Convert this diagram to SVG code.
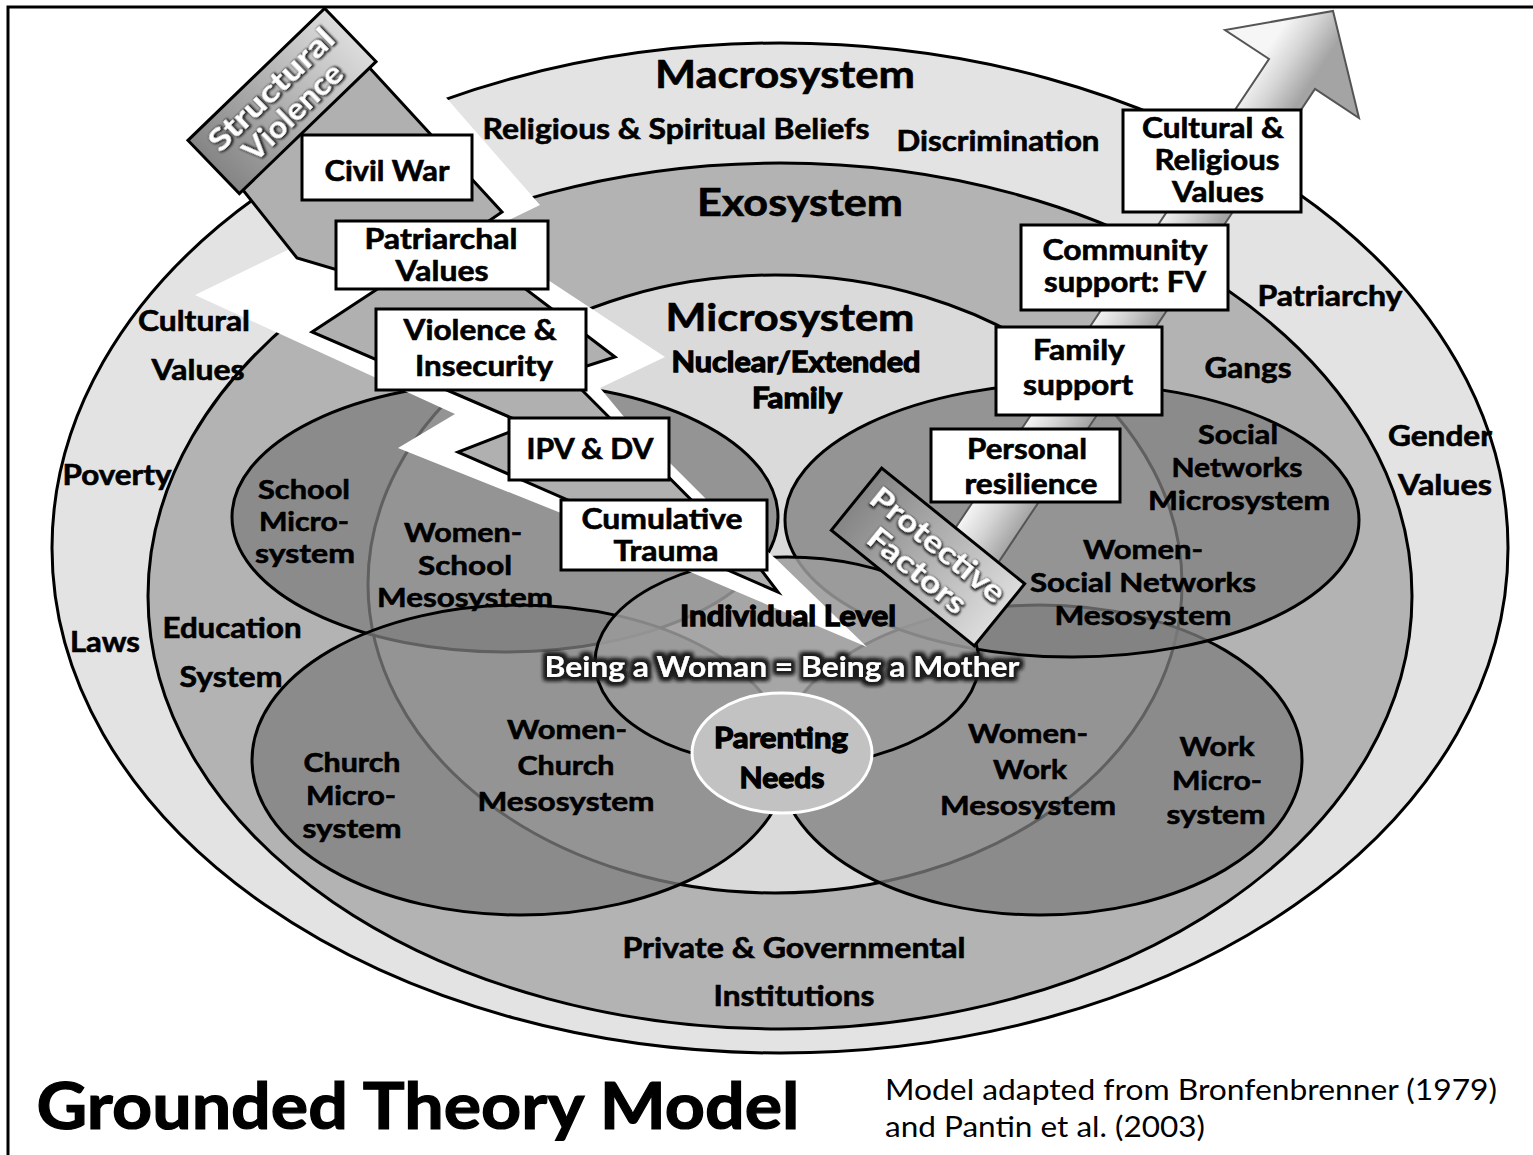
<svg xmlns="http://www.w3.org/2000/svg" width="1533" height="1155" viewBox="0 0 1533 1155">
  <defs>
    <style>
      .t{font-family:Lato,"Open Sans","DejaVu Sans",sans-serif;font-weight:700;text-anchor:middle;fill:#000;stroke:#000;stroke-width:0.6}
      .heavy{stroke-width:1.3}
      .s27{font-size:27px}
      .s28{font-size:28px}
      .s29{font-size:29px}
      .s38{font-size:38px}
      .band{stroke:#000;stroke-width:3}
      .sub{fill:#7e7e7e;fill-opacity:0.76;stroke:#000;stroke-width:3}
      .box{fill:#fff;stroke:#000;stroke-width:3}
      .tag{stroke:#000;stroke-width:3;fill:url(#tagFill)}
      .wt{font-family:Lato,"Open Sans","DejaVu Sans",sans-serif;font-weight:700;text-anchor:middle;fill:#fff;font-size:30px}
    </style>
    <linearGradient id="tagFill" x1="0" y1="0" x2="1" y2="0">
      <stop offset="0" stop-color="#858585"/>
      <stop offset="1" stop-color="#dcdcdc"/>
    </linearGradient>
    <linearGradient id="arrowFill" gradientUnits="userSpaceOnUse" x1="952" y1="533" x2="998" y2="563">
      <stop offset="0" stop-color="#f6f6f6"/>
      <stop offset="0.45" stop-color="#d6d6d6"/>
      <stop offset="1" stop-color="#a4a4a4"/>
    </linearGradient>
    <filter id="darkHalo" x="-5%" y="-40%" width="110%" height="180%">
      <feMorphology in="SourceAlpha" operator="dilate" radius="2.5" result="grow"/>
      <feGaussianBlur in="grow" stdDeviation="2" result="soft"/>
      <feFlood flood-color="#1e1e1e"/>
      <feComposite in2="soft" operator="in" result="halo"/>
      <feMerge><feMergeNode in="halo"/><feMergeNode in="halo"/><feMergeNode in="SourceGraphic"/></feMerge>
    </filter>
    <filter id="tagText" x="-10%" y="-30%" width="120%" height="160%">
      <feMorphology in="SourceAlpha" operator="dilate" radius="1" result="grow"/>
      <feGaussianBlur in="grow" stdDeviation="1" result="soft"/>
      <feOffset in="soft" dx="1" dy="1" result="off"/>
      <feFlood flood-color="#222"/>
      <feComposite in2="off" operator="in" result="sh"/>
      <feMerge><feMergeNode in="sh"/><feMergeNode in="SourceGraphic"/></feMerge>
    </filter>
    <filter id="softEdge" x="-5%" y="-5%" width="110%" height="110%">
      <feGaussianBlur stdDeviation="0.7"/>
    </filter>
  </defs>

  <rect width="1533" height="1155" fill="#fff"/>
  <!-- page frame -->
  <path d="M8,1155 V7 H1533" fill="none" stroke="#000" stroke-width="3"/>

  <!-- nested system ellipses -->
  <g id="macrosystem"><ellipse class="band" cx="780" cy="548" rx="728" ry="505" fill="#e3e3e3"/></g>
  <g id="exosystem"><ellipse class="band" cx="780" cy="596" rx="632" ry="433" fill="#b3b3b3"/></g>
  <g id="microsystem"><ellipse class="band" cx="775" cy="584" rx="407" ry="309" fill="#dadada"/></g>
  <g id="school-microsystem"><ellipse class="sub" cx="505" cy="517" rx="273" ry="135"/></g>
  <g id="church-microsystem"><ellipse class="sub" cx="520" cy="760" rx="268" ry="155"/></g>
  <g id="work-microsystem"><ellipse class="sub" cx="1040" cy="760" rx="262" ry="155"/></g>
  <g id="social-networks-microsystem"><ellipse class="sub" cx="1072" cy="520" rx="287" ry="137"/></g>
  <g id="individual-level"><ellipse cx="787" cy="662" rx="192" ry="105" fill="#9c9c9c" fill-opacity="0.85" stroke="#000" stroke-width="3"/></g>
  <g id="parenting-needs"><ellipse cx="782" cy="753" rx="90" ry="60" fill="#c2c2c2" stroke="#fff" stroke-width="3"/></g>

  <!-- directional shapes: violence bolt and protective arrow -->
  <g id="connectors">
    <g id="violence-bolt">
      <polygon fill="#fff" points="300,40 380,22 540,205 505,222 548,280 665,357 600,388 625,418 705,498 775,558 867,647 688,571 561,513 398,448 455,414 195,295 308,240 238,190 250,150"/>
      <polygon fill="#b0b0b0" stroke="#000" stroke-width="3" stroke-linejoin="miter" points="355,52 502,212 461,240 615,357 565,373 762,571 778,592 458,452 528,425 312,332 385,284 297,258 235,180"/>
    </g>
    <g id="protective-arrow" filter="url(#softEdge)">
      <polygon fill="url(#arrowFill)" stroke="#555" stroke-width="2" points="952,533 1269,59 1225,30 1333,11 1359,118 1315,89 998,563"/>
    </g>
  </g>

  <!-- layer labels -->
  <g id="macrosystem-labels" class="t s28">
    <text class="s38" x="785" y="88" textLength="260" lengthAdjust="spacingAndGlyphs">Macrosystem</text>
    <text x="676" y="139" textLength="387" lengthAdjust="spacingAndGlyphs">Religious &amp; Spiritual Beliefs</text>
    <text x="998" y="151" textLength="203" lengthAdjust="spacingAndGlyphs">Discrimination</text>
    <text x="194" y="331" textLength="112" lengthAdjust="spacingAndGlyphs">Cultural</text>
    <text x="198" y="380" textLength="93" lengthAdjust="spacingAndGlyphs">Values</text>
    <text x="117" y="485" textLength="109" lengthAdjust="spacingAndGlyphs">Poverty</text>
    <text x="105" y="652" textLength="70" lengthAdjust="spacingAndGlyphs">Laws</text>
    <text x="1330" y="306" textLength="145" lengthAdjust="spacingAndGlyphs">Patriarchy</text>
    <text x="1440" y="446" textLength="104" lengthAdjust="spacingAndGlyphs">Gender</text>
    <text x="1445" y="495" textLength="94" lengthAdjust="spacingAndGlyphs">Values</text>
  </g>
  <g id="exosystem-labels" class="t s28">
    <text class="s38" x="800" y="216" textLength="206" lengthAdjust="spacingAndGlyphs">Exosystem</text>
    <text x="232" y="638" textLength="139" lengthAdjust="spacingAndGlyphs">Education</text>
    <text x="231" y="687" textLength="103" lengthAdjust="spacingAndGlyphs">System</text>
    <text x="1248" y="378" textLength="87" lengthAdjust="spacingAndGlyphs">Gangs</text>
    <text x="794" y="958" textLength="343" lengthAdjust="spacingAndGlyphs">Private &amp; Governmental</text>
    <text x="794" y="1006" textLength="161" lengthAdjust="spacingAndGlyphs">Institutions</text>
  </g>
  <g id="microsystem-labels" class="t s27">
    <text class="s38" x="790" y="331" textLength="249" lengthAdjust="spacingAndGlyphs">Microsystem</text>
    <text class="s29 heavy" x="796" y="372" textLength="249" lengthAdjust="spacingAndGlyphs">Nuclear/Extended</text>
    <text class="s29 heavy" x="797" y="408" textLength="90" lengthAdjust="spacingAndGlyphs">Family</text>
    <text x="304" y="499" textLength="92" lengthAdjust="spacingAndGlyphs">School</text>
    <text x="304" y="531" textLength="90" lengthAdjust="spacingAndGlyphs">Micro-</text>
    <text x="305" y="563" textLength="100" lengthAdjust="spacingAndGlyphs">system</text>
    <text x="463" y="542" textLength="118" lengthAdjust="spacingAndGlyphs">Women-</text>
    <text x="465" y="575" textLength="94" lengthAdjust="spacingAndGlyphs">School</text>
    <text x="465" y="607" textLength="176" lengthAdjust="spacingAndGlyphs">Mesosystem</text>
    <text x="352" y="772" textLength="97" lengthAdjust="spacingAndGlyphs">Church</text>
    <text x="351" y="805" textLength="90" lengthAdjust="spacingAndGlyphs">Micro-</text>
    <text x="352" y="838" textLength="99" lengthAdjust="spacingAndGlyphs">system</text>
    <text x="567" y="739" textLength="120" lengthAdjust="spacingAndGlyphs">Women-</text>
    <text x="566" y="775" textLength="97" lengthAdjust="spacingAndGlyphs">Church</text>
    <text x="566" y="811" textLength="177" lengthAdjust="spacingAndGlyphs">Mesosystem</text>
    <text x="1028" y="743" textLength="120" lengthAdjust="spacingAndGlyphs">Women-</text>
    <text x="1030" y="779" textLength="74" lengthAdjust="spacingAndGlyphs">Work</text>
    <text x="1028" y="815" textLength="176" lengthAdjust="spacingAndGlyphs">Mesosystem</text>
    <text x="1217" y="756" textLength="75" lengthAdjust="spacingAndGlyphs">Work</text>
    <text x="1217" y="790" textLength="90" lengthAdjust="spacingAndGlyphs">Micro-</text>
    <text x="1216" y="824" textLength="99" lengthAdjust="spacingAndGlyphs">system</text>
    <text x="1238" y="444" textLength="80" lengthAdjust="spacingAndGlyphs">Social</text>
    <text x="1237" y="477" textLength="131" lengthAdjust="spacingAndGlyphs">Networks</text>
    <text x="1239" y="510" textLength="182" lengthAdjust="spacingAndGlyphs">Microsystem</text>
    <text x="1143" y="559" textLength="120" lengthAdjust="spacingAndGlyphs">Women-</text>
    <text x="1143" y="592" textLength="226" lengthAdjust="spacingAndGlyphs">Social Networks</text>
    <text x="1143" y="625" textLength="177" lengthAdjust="spacingAndGlyphs">Mesosystem</text>
  </g>

  <!-- risk factor boxes -->
  <g id="civil-war" class="t s28">
    <rect class="box" x="302" y="135" width="170" height="65"/>
    <text x="387" y="181" textLength="125" lengthAdjust="spacingAndGlyphs">Civil War</text>
  </g>
  <g id="patriarchal-values" class="t s28">
    <rect class="box" x="336" y="221" width="212" height="68"/>
    <text x="441" y="249" textLength="153" lengthAdjust="spacingAndGlyphs">Patriarchal</text>
    <text x="442" y="281" textLength="93" lengthAdjust="spacingAndGlyphs">Values</text>
  </g>
  <g id="violence-insecurity" class="t s28">
    <rect class="box" x="376" y="309" width="210" height="81"/>
    <text x="480" y="340" textLength="153" lengthAdjust="spacingAndGlyphs">Violence &amp;</text>
    <text x="484" y="376" textLength="138" lengthAdjust="spacingAndGlyphs">Insecurity</text>
  </g>
  <g id="ipv-dv" class="t s28">
    <rect class="box" x="509" y="418" width="160" height="62"/>
    <text x="590" y="459" textLength="127" lengthAdjust="spacingAndGlyphs">IPV &amp; DV</text>
  </g>
  <g id="cumulative-trauma" class="t s28">
    <rect class="box" x="561" y="500" width="206" height="70"/>
    <text x="662" y="529" textLength="161" lengthAdjust="spacingAndGlyphs">Cumulative</text>
    <text x="666" y="561" textLength="105" lengthAdjust="spacingAndGlyphs">Trauma</text>
  </g>

  <!-- protective factor boxes -->
  <g id="cultural-religious-values" class="t s28">
    <rect class="box" x="1123" y="110" width="178" height="102"/>
    <text x="1213" y="138" textLength="142" lengthAdjust="spacingAndGlyphs">Cultural &amp;</text>
    <text x="1217" y="170" textLength="125" lengthAdjust="spacingAndGlyphs">Religious</text>
    <text x="1218" y="202" textLength="92" lengthAdjust="spacingAndGlyphs">Values</text>
  </g>
  <g id="community-support" class="t s28">
    <rect class="box" x="1021" y="225" width="207" height="85"/>
    <text x="1125" y="260" textLength="165" lengthAdjust="spacingAndGlyphs">Community</text>
    <text x="1125" y="292" textLength="162" lengthAdjust="spacingAndGlyphs">support: FV</text>
  </g>
  <g id="family-support" class="t s28">
    <rect class="box" x="996" y="327" width="166" height="88"/>
    <text x="1079" y="360" textLength="92" lengthAdjust="spacingAndGlyphs">Family</text>
    <text x="1078" y="395" textLength="110" lengthAdjust="spacingAndGlyphs">support</text>
  </g>
  <g id="personal-resilience" class="t s28">
    <rect class="box" x="931" y="429" width="189" height="73"/>
    <text x="1027" y="459" textLength="120" lengthAdjust="spacingAndGlyphs">Personal</text>
    <text x="1031" y="494" textLength="133" lengthAdjust="spacingAndGlyphs">resilience</text>
  </g>

  <!-- tilted tags -->
  <g id="structural-violence" transform="translate(282,101) rotate(-44)">
    <rect class="tag" x="-95" y="-37" width="190" height="74"/>
    <g filter="url(#tagText)">
      <text class="wt" x="0" y="-5" textLength="162" lengthAdjust="spacingAndGlyphs">Structural</text>
      <text class="wt" x="0" y="26" textLength="126" lengthAdjust="spacingAndGlyphs">Violence</text>
    </g>
  </g>
  <g id="protective-factors" transform="translate(928,557) rotate(39)">
    <rect class="tag" x="-92" y="-40" width="184" height="80"/>
    <g filter="url(#tagText)">
      <text class="wt" x="0" y="-5" textLength="164" lengthAdjust="spacingAndGlyphs">Protective</text>
      <text class="wt" x="0" y="28" textLength="118" lengthAdjust="spacingAndGlyphs">Factors</text>
    </g>
  </g>

  <!-- individual level labels -->
  <g id="individual-labels" class="t s29">
    <text class="heavy" x="788" y="626" textLength="216" lengthAdjust="spacingAndGlyphs">Individual Level</text>
    <text x="782" y="677" textLength="475" lengthAdjust="spacingAndGlyphs" style="fill:#fff;stroke:none" filter="url(#darkHalo)">Being a Woman = Being a Mother</text>
    <text class="heavy" x="781" y="748" textLength="134" lengthAdjust="spacingAndGlyphs">Parenting</text>
    <text class="heavy" x="782" y="788" textLength="85" lengthAdjust="spacingAndGlyphs">Needs</text>
  </g>

  <!-- caption -->
  <g id="caption">
    <text class="t" x="418" y="1129" font-size="65" textLength="763" lengthAdjust="spacingAndGlyphs" style="stroke-width:1.2">Grounded Theory Model</text>
    <text x="885" y="1100" font-family="Lato, 'Open Sans', sans-serif" font-size="29" textLength="612" lengthAdjust="spacingAndGlyphs">Model adapted from Bronfenbrenner (1979)</text>
    <text x="885" y="1137" font-family="Lato, 'Open Sans', sans-serif" font-size="29" textLength="320" lengthAdjust="spacingAndGlyphs">and Pantin et al. (2003)</text>
  </g>
</svg>
